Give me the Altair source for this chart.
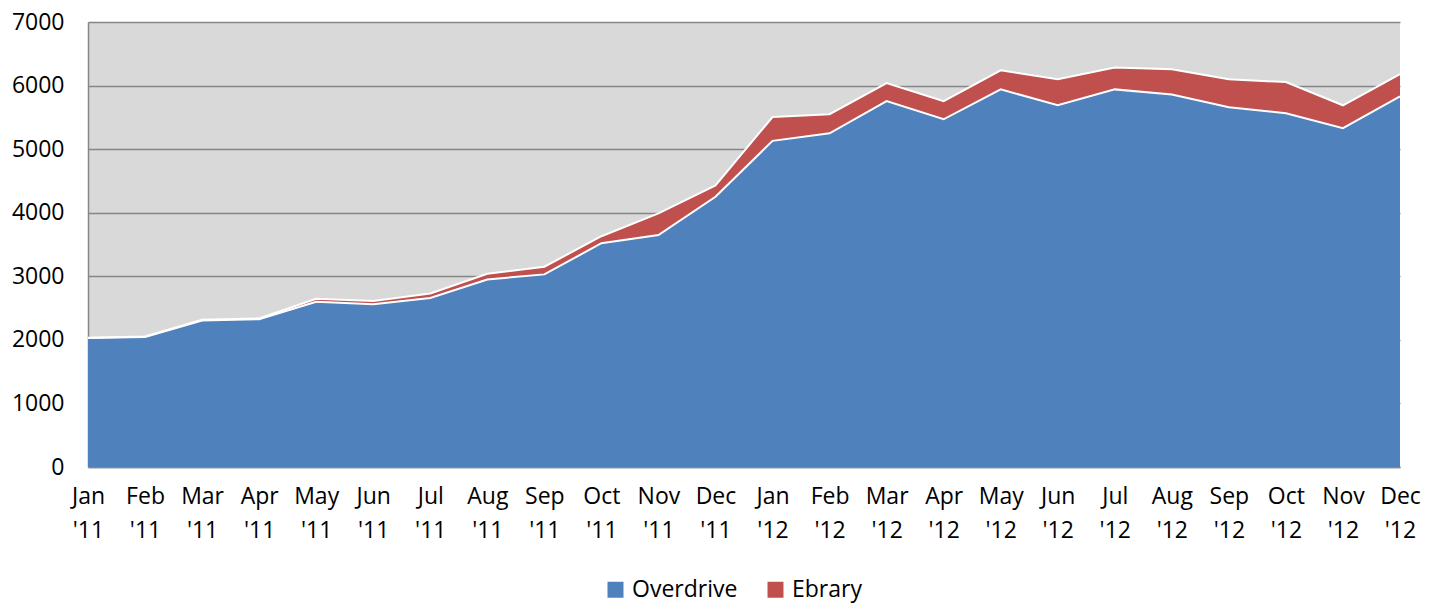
import altair as alt
import pandas as pd

months = ["Jan '11", "Feb '11", "Mar '11", "Apr '11", "May '11", "Jun '11", "Jul '11", "Aug '11",
          "Sep '11", "Oct '11", "Nov '11", "Dec '11", "Jan '12", "Feb '12", "Mar '12", "Apr '12",
          "May '12", "Jun '12", "Jul '12", "Aug '12", "Sep '12", "Oct '12", "Nov '12", "Dec '12"]
overdrive = [2030, 2045, 2305, 2325, 2600, 2560, 2660, 2950, 3030, 3520, 3650, 4250,
             5130, 5250, 5755, 5470, 5940, 5690, 5940, 5860, 5660, 5565, 5330, 5830]
ebrary = [5, 8, 10, 12, 45, 50, 70, 90, 120, 110, 340, 180,
          375, 300, 285, 285, 300, 410, 345, 395, 440, 490, 360, 350]

rows = []
for i, m in enumerate(months):
    rows.append({"month": m, "series": "Overdrive", "value": overdrive[i], "ord": 0})
    rows.append({"month": m, "series": "Ebrary", "value": ebrary[i], "ord": 1})
df = pd.DataFrame(rows)

font = "Open Sans"
fs = 23

xenc = alt.X("month:O", sort=months, scale=alt.Scale(type="point", padding=0),
             axis=alt.Axis(title=None, labelAngle=0, labelExpr="split(datum.label, ' ')",
                           labelLineHeight=34, labelPadding=18, ticks=False,
                           domainColor="#868686", domainWidth=1.5, grid=False,
                           labelFontSize=fs, labelFont=font, labelColor="#000"))

base = alt.Chart(df)

area = base.mark_area(opacity=1).encode(
    x=xenc,
    y=alt.Y("value:Q", stack="zero", scale=alt.Scale(domain=[0, 7000]),
            axis=alt.Axis(title=None, values=[0, 1000, 2000, 3000, 4000, 5000, 6000, 7000],
                          format="d", ticks=False, labelPadding=24,
                          gridColor="#868686", gridWidth=1.5,
                          domainColor="#868686", domainWidth=1.5,
                          labelFontSize=fs, labelFont=font, labelColor="#000")),
    color=alt.Color("series:N", scale=alt.Scale(domain=["Overdrive", "Ebrary"],
                                                range=["#4F81BD", "#C0504D"]),
                    legend=alt.Legend(title=None, orient="none", direction="horizontal",
                                      legendX=516, legendY=556,
                                      symbolType="square", symbolSize=256, symbolStrokeWidth=0,
                                      labelOffset=5, labelFontSize=fs, labelFont=font,
                                      labelColor="#000", columnPadding=26)),
    order=alt.Order("ord:Q"),
)

lines = base.transform_window(
    cum="sum(value)", groupby=["month"], sort=[alt.SortField("ord")], frame=[None, 0]
).mark_line(color="white", strokeWidth=2).encode(
    x=alt.X("month:O", sort=months, scale=alt.Scale(type="point", padding=0)),
    y=alt.Y("cum:Q"),
    detail="series:N",
)

chart = alt.layer(area, lines).properties(
    width=1312, height=445,
    autosize=alt.AutoSizeParams(type="none"),
    padding={"left": 80, "top": 14, "right": 29, "bottom": 150},
).configure_view(
    fill="#D9D9D9", stroke=None
)

chart.save("out.html", embed_options={"renderer": "svg", "actions": False})
